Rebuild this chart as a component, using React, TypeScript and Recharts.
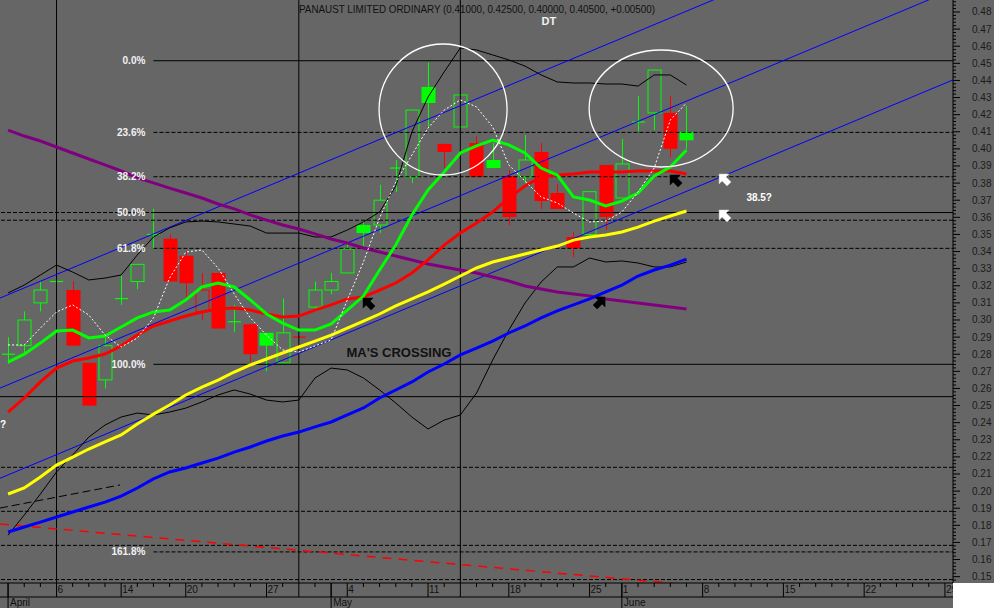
import React from 'react';
import { ComposedChart, Bar, Line, XAxis, YAxis, ReferenceLine, ReferenceDot } from 'recharts';

const FONT = '"Liberation Sans", Arial, sans-serif';

const dates = ['Apr 1','Apr 2','Apr 3','Apr 6','Apr 7','Apr 8','Apr 9','Apr 14','Apr 15','Apr 16','Apr 17','Apr 20','Apr 21','Apr 22','Apr 23','Apr 24','Apr 27','Apr 28','Apr 29','Apr 30',
  'May 1','May 4','May 5','May 6','May 7','May 8','May 11','May 12','May 13','May 14','May 15','May 18','May 19','May 20','May 21','May 22','May 25','May 26',
  'Jun 1','Jun 2','Jun 3','Jun 4','Jun 5','Jun 8','Jun 9','Jun 10','Jun 11','Jun 12','Jun 15','Jun 16','Jun 17','Jun 18','Jun 19','Jun 22','Jun 23','Jun 24','Jun 25','Jun 26','Jun 29'];

const tickDates = ['Apr 6','Apr 14','Apr 20','Apr 27','May 4','May 11','May 18','May 25','Jun 1','Jun 8','Jun 15','Jun 22','Jun 29'];
const monthStarts = ['Apr 1','May 1','Jun 1'];
const monthNames = ['April','May','June'];
const markerDates = ['Apr 6','Apr 29','May 13'];

const opens = [0.28,0.285,0.31,0.3225,0.3175,0.275,0.265,0.3125,0.3225,0.35,0.3475,0.3375,0.305,0.3275,0.299,0.2975,0.2925,0.275,0.29,0.3075,0.3175,0.3275,0.3555,0.3555,0.3888,0.3836,0.4362,0.4029,0.4128,0.4034,0.3935,0.3841,0.3836,0.3982,0.3742,0.3485,0.35,0.3906,0.3713,0.4157,0.421,0.421,0.41];
const highs = [0.29,0.305,0.3225,0.325,0.3225,0.275,0.29,0.326,0.3325,0.365,0.35,0.34,0.3275,0.3275,0.3088,0.2975,0.2925,0.3125,0.2905,0.3225,0.3275,0.3456,0.3578,0.379,0.3935,0.4227,0.4504,0.4029,0.4315,0.4075,0.4034,0.3877,0.4081,0.4034,0.3795,0.3514,0.375,0.3906,0.4058,0.4309,0.4461,0.431,0.425];
const lows = [0.2745,0.28,0.305,0.3225,0.285,0.25,0.26,0.3088,0.318,0.3415,0.3225,0.3125,0.30,0.295,0.293,0.275,0.27,0.275,0.2895,0.305,0.315,0.3275,0.343,0.3508,0.3748,0.38,0.4128,0.3888,0.4128,0.3836,0.3888,0.3555,0.38,0.3649,0.3649,0.3368,0.35,0.3526,0.3713,0.4104,0.411,0.395,0.40];
const closes = [0.28,0.30,0.3175,0.3225,0.285,0.25,0.285,0.3125,0.3325,0.35,0.3225,0.3215,0.3175,0.295,0.299,0.28,0.285,0.2925,0.29,0.3175,0.3225,0.3415,0.3508,0.37,0.3888,0.4227,0.4268,0.3982,0.4315,0.3836,0.3888,0.3602,0.3935,0.3695,0.3649,0.342,0.375,0.3602,0.3912,0.4157,0.4461,0.40,0.405];

const maGreen = [0.2754,0.28,0.2865,0.2936,0.2941,0.2895,0.2906,0.2959,0.3012,0.3047,0.3058,0.3117,0.3193,0.3216,0.3193,0.3117,0.3035,0.2982,0.2941,0.2941,0.2977,0.3058,0.314,0.3292,0.3438,0.3614,0.376,0.3865,0.3976,0.4017,0.4052,0.4023,0.3976,0.3888,0.3847,0.3719,0.3701,0.3666,0.3695,0.3742,0.3842,0.3894,0.3993];
const maRed = [0.2462,0.2544,0.2638,0.2719,0.276,0.2778,0.2801,0.2848,0.2912,0.2965,0.2994,0.3023,0.3047,0.3064,0.307,0.3058,0.3035,0.3017,0.3023,0.3058,0.3088,0.3123,0.3134,0.3175,0.3216,0.3275,0.3351,0.3438,0.3508,0.3567,0.3631,0.3713,0.3783,0.3836,0.3847,0.3853,0.3865,0.3865,0.3865,0.3871,0.3871,0.3871,0.3853];
const maYellow = [0.1983,0.2018,0.2082,0.2152,0.2199,0.2246,0.2287,0.2328,0.2392,0.245,0.2503,0.2562,0.2608,0.2649,0.2696,0.2737,0.2772,0.2807,0.2842,0.2877,0.2912,0.2953,0.2994,0.3035,0.3082,0.3123,0.3164,0.321,0.3257,0.3304,0.3339,0.3362,0.3386,0.3409,0.3432,0.3467,0.3485,0.3497,0.3514,0.3543,0.3578,0.3608,0.3637];
const maBlue = [0.1761,0.179,0.1819,0.1849,0.1878,0.1907,0.1936,0.1971,0.2018,0.2071,0.2112,0.2135,0.2164,0.2193,0.2228,0.2258,0.2293,0.2322,0.2345,0.2375,0.2404,0.2445,0.2486,0.2544,0.2591,0.2638,0.2696,0.2743,0.2796,0.2836,0.2877,0.2924,0.2965,0.3012,0.3053,0.3088,0.3123,0.3164,0.3204,0.3257,0.3292,0.3321,0.3356];
const maPurple = [0.411,0.4075,0.4046,0.4011,0.3976,0.3941,0.3906,0.3871,0.383,0.3801,0.3771,0.3742,0.3713,0.3678,0.3649,0.3614,0.3584,0.3555,0.3532,0.3503,0.3473,0.345,0.3421,0.3397,0.3374,0.3351,0.3327,0.331,0.3292,0.3275,0.3251,0.3228,0.3199,0.3181,0.3164,0.3152,0.3141,0.3123,0.3111,0.3099,0.3088,0.3076,0.3064];
const bandUpper = [0.3158,0.3204,0.3263,0.3321,0.328,0.3234,0.3245,0.3263,0.338,0.3485,0.3538,0.3573,0.3578,0.3573,0.3561,0.3549,0.3508,0.3508,0.3508,0.3485,0.3485,0.3526,0.3573,0.3631,0.3783,0.4099,0.4303,0.445,0.459,0.4578,0.4549,0.452,0.4484,0.4432,0.4391,0.4385,0.4385,0.4379,0.4379,0.4367,0.4432,0.4432,0.4373];
const bandLower = [0.1743,0.186,0.1983,0.2112,0.2211,0.2316,0.2386,0.2433,0.2456,0.2445,0.2462,0.2485,0.2521,0.2562,0.2591,0.2567,0.2532,0.2521,0.2532,0.2661,0.2719,0.2708,0.2661,0.2591,0.2515,0.2433,0.2363,0.2415,0.2445,0.2573,0.2766,0.2941,0.3099,0.3222,0.331,0.331,0.3362,0.3339,0.3345,0.3333,0.331,0.331,0.3339];
const maWhite = [0.2854,0.2854,0.2953,0.3047,0.3088,0.3029,0.2912,0.2842,0.2895,0.3012,0.3245,0.3397,0.3409,0.3304,0.3152,0.3012,0.2912,0.2825,0.2813,0.2848,0.2883,0.3117,0.3339,0.3596,0.3806,0.3964,0.4122,0.4227,0.4286,0.4245,0.4128,0.3906,0.3812,0.3719,0.3684,0.3625,0.3573,0.3578,0.3631,0.3748,0.3888,0.4169,0.4268];

const priceTicks = [0.15,0.16,0.17,0.18,0.19,0.20,0.21,0.22,0.23,0.24,0.25,0.26,0.27,0.28,0.29,0.30,0.31,0.32,0.33,0.34,0.35,0.36,0.37,0.38,0.39,0.40,0.41,0.42,0.43,0.44,0.45,0.46,0.47,0.48];

const fibHigh = 0.4515;
const fibLow = 0.2741;
const fibLevels = [0, 23.6, 38.2, 50, 61.8, 100, 161.8];
const fibSolid = [0, 100];
const fibStartDate = 'Apr 16';

const levelDashed = [0.3628, 0.3583, 0.2139, 0.1882, 0.1683, 0.1483];
const levelSolid = [0.2552];

// channel / trend lines: [x1 (day index), y1, x2, y2]
const channelLines = [
  [-0.5, 0.3128, 58.5, 0.5456],
  [-0.5, 0.2602, 58.5, 0.4930],
  [-0.5, 0.2075, 58.5, 0.4403],
];
const redTrend = [-0.5, 0.1808, 58.5, 0.1317];
const blackTrend = [-0.5, 0.1901, 6.93, 0.2036];

const circles = [
  { x: 26.93, y: 0.423, rx: 64, ry: 65.5 },
  { x: 40.43, y: 0.4236, rx: 72, ry: 58.5 },
];
const arrows = [
  { x: 22.35, y: 0.3093, color: '#000', dir: 'ul' },
  { x: 41.36, y: 0.3812, color: '#000', dir: 'ul' },
  { x: 36.59, y: 0.3099, color: '#000', dir: 'ur' },
  { x: 44.39, y: 0.3818, color: '#fff', dir: 'ul' },
  { x: 44.39, y: 0.3608, color: '#fff', dir: 'ul' },
];
const notes = [
  { x: 24.2, y: 0.2813, text: "MA'S CROSSING", size: 13, color: '#111' },
  { x: 46.5, y: 0.3719, text: '38.5?', size: 10, color: '#fff' },
  { x: -0.31, y: 0.2392, text: '?', size: 10, color: '#fff' },
];

const idx = (d: string) => dates.indexOf(d);

const data = dates.map((d, i) => {
  const has = i < opens.length;
  return {
    i,
    date: d,
    o: has ? opens[i] : null,
    h: has ? highs[i] : null,
    l: has ? lows[i] : null,
    c: has ? closes[i] : null,
    pc: has && i > 0 ? closes[i - 1] : null,
    range: has ? [lows[i], highs[i]] : null,
    green: has ? maGreen[i] : null,
    red: has ? maRed[i] : null,
    yellow: has ? maYellow[i] : null,
    blue: has ? maBlue[i] : null,
    purple: has ? maPurple[i] : null,
    bbU: has ? bandUpper[i] : null,
    bbL: has ? bandLower[i] : null,
    white: has ? maWhite[i] : null,
  };
});

const yTicks: number[] = [];
for (let k = 148; k <= 486; k += 2) yTicks.push(k / 1000);

const tickIdx: Record<number, string> = {};
tickDates.forEach((d) => { tickIdx[idx(d)] = d.split(' ')[1]; });
const monthIdx: Record<number, string> = {};
monthStarts.forEach((d, k) => { monthIdx[idx(d)] = monthNames[k]; });
const markerIdx = markerDates.map(idx);

const Candle = (props: any) => {
  const { x, y, width, height, payload } = props;
  if (!payload || payload.o == null) return null;
  const { o, h, l, c, pc } = payload;
  const top = Math.min(y, y + height);
  const bot = Math.max(y, y + height);
  const span = h - l;
  const py = (v: number) => (span > 0 ? top + ((h - v) / span) * (bot - top) : top);
  const col = pc == null || c >= pc ? '#00ff00' : '#ff0000';
  const cx = Math.round(x + width / 2) + 0.5;
  const bw = 13;
  const bx = cx - bw / 2;
  const yo = py(o);
  const yc = py(c);
  const yh = py(h);
  const yl = py(l);
  const els: any[] = [];
  els.push(<line key="w" x1={cx} x2={cx} y1={yh} y2={Math.max(yl, yh + 1)} stroke={col} strokeWidth={1} />);
  if (Math.abs(o - c) < 1e-9) {
    els.push(<line key="b" x1={bx} x2={bx + bw} y1={yo} y2={yo} stroke={col} strokeWidth={1.2} />);
  } else if (c > o) {
    els.push(<rect key="b" x={bx} y={yc} width={bw} height={yo - yc} fill="#666666" stroke={col} strokeWidth={1} />);
  } else {
    els.push(<rect key="b" x={bx - 0.5} y={yo} width={bw + 1} height={Math.max(1, yc - yo)} fill={col} />);
  }
  return <g>{els}</g>;
};

const XTick = (props: any) => {
  const { x, y, payload } = props;
  const i = payload.value;
  const label = tickIdx[i];
  const month = monthIdx[i];
  const long = label !== undefined || month !== undefined || markerIdx.includes(i);
  return (
    <g>
      {i === 0 && <line x1={0} x2={953} y1={y + 14} y2={y + 14} stroke="#000" />}
      <line x1={x} x2={x} y1={y} y2={long ? y + 14 : y + 4} stroke="#000" />
      {label !== undefined && (
        <text x={x + 1} y={y + 10} fontSize={10} fill="#111" fontFamily={FONT}>{label}</text>
      )}
      {month !== undefined && (
        <g>
          <line x1={x} x2={x} y1={y} y2={y + 25} stroke="#000" />
          <text x={x + 2} y={y + 23} fontSize={10} fill="#111" fontFamily={FONT}>{month}</text>
        </g>
      )}
    </g>
  );
};

const YTick = (props: any) => {
  const { x, y, payload } = props;
  const v = payload.value;
  const major = Math.round(v * 1000) % 10 === 0;
  return (
    <g>
      <line x1={x} x2={x + (major ? 7 : 3)} y1={y} y2={y} stroke="#000" />
      {major && priceTicks.some((p) => Math.abs(p - v) < 1e-6) && (
        <text x={x + 19} y={y + 3.5} fontSize={10} fill="#1a1a1a" fontFamily={FONT}>{v.toFixed(2)}</text>
      )}
    </g>
  );
};

const arrowShape = (color: string, dir: string) => (p: any) => {
  const s = dir === 'ur' ? -1 : 1;
  return (
    <g transform={`translate(${p.cx},${p.cy}) scale(${s},1) translate(-6,-6)`}>
      <polygon points="0,0 0,10 3,7 8,12 12,8 7,3 10,0" fill={color} stroke={color === '#fff' ? '#ccc' : '#000'} strokeWidth={0.5} />
    </g>
  );
};

const lineProps = { dot: false, activeDot: false, isAnimationActive: false } as const;

export default function App() {
  const fibStart = idx(fibStartDate);
  return (
    <div style={{ position: 'absolute', left: 0, top: 0, width: 994, height: 608, background: '#666666', overflow: 'hidden' }}>
      <style>{'body{margin:0}'}</style>
      <ComposedChart width={994} height={608} data={data} margin={{ top: 0, right: 0, bottom: 0, left: 0 }}>
        <XAxis xAxisId="c" dataKey="i" type="category" height={25} interval={0} tickSize={0} tickMargin={0}
          tick={XTick} axisLine={{ stroke: '#000' }} tickLine={false} />
        <XAxis xAxisId="n" dataKey="i" type="number" domain={[-0.5, 58.5]} allowDataOverflow hide />
        <YAxis orientation="right" width={41} domain={[0.1463, 0.487]} allowDataOverflow ticks={yTicks} interval={0}
          tickSize={0} tickMargin={0} tick={YTick} axisLine={{ stroke: '#000' }} tickLine={false} />

        {levelDashed.map((v) => (
          <ReferenceLine key={'ld' + v} xAxisId="n" y={v} stroke="#000" strokeDasharray="4 2" ifOverflow="hidden" />
        ))}
        {levelSolid.map((v) => (
          <ReferenceLine key={'ls' + v} xAxisId="n" y={v} stroke="#000" ifOverflow="hidden" />
        ))}
        {fibLevels.map((pct) => {
          const v = fibHigh - (pct / 100) * (fibHigh - fibLow);
          return (
            <ReferenceLine key={'f' + pct} xAxisId="n" segment={[{ x: fibStart, y: v }, { x: 58.5, y: v }]}
              stroke="#000" strokeDasharray={fibSolid.includes(pct) ? undefined : '4 2'} ifOverflow="hidden" />
          );
        })}
        {markerIdx.map((m) => (
          <ReferenceLine key={'m' + m} xAxisId="n" x={m} stroke="#000" ifOverflow="hidden" />
        ))}
        {channelLines.map((c, k) => (
          <ReferenceLine key={'ch' + k} xAxisId="n" segment={[{ x: c[0], y: c[1] }, { x: c[2], y: c[3] }]}
            stroke="#0000ff" strokeWidth={1} ifOverflow="hidden" />
        ))}
        <ReferenceLine xAxisId="n" segment={[{ x: redTrend[0], y: redTrend[1] }, { x: redTrend[2], y: redTrend[3] }]}
          stroke="#ff0000" strokeWidth={1.5} strokeDasharray="9 7" ifOverflow="hidden" />
        <ReferenceLine xAxisId="n" segment={[{ x: blackTrend[0], y: blackTrend[1] }, { x: blackTrend[2], y: blackTrend[3] }]}
          stroke="#000" strokeWidth={1} strokeDasharray="8 4" ifOverflow="hidden" />

        <Line xAxisId="n" dataKey="bbU" stroke="#000" strokeWidth={1} {...lineProps} />
        <Line xAxisId="n" dataKey="bbL" stroke="#000" strokeWidth={1} {...lineProps} />
        <Line xAxisId="n" dataKey="purple" stroke="#800080" strokeWidth={3} {...lineProps} />
        <Line xAxisId="n" dataKey="blue" stroke="#0000ff" strokeWidth={3} {...lineProps} />

        <Bar xAxisId="c" dataKey="range" barSize={14} shape={(p: any) => <Candle {...p} />} activeBar={false} isAnimationActive={false} />

        <Line xAxisId="n" dataKey="yellow" stroke="#ffff00" strokeWidth={3} {...lineProps} />
        <Line xAxisId="n" dataKey="red" stroke="#ff0000" strokeWidth={3} {...lineProps} />
        <Line xAxisId="n" dataKey="green" stroke="#00ff00" strokeWidth={3} {...lineProps} />
        <Line xAxisId="n" dataKey="white" stroke="#ffffff" strokeWidth={1} strokeDasharray="2 2" {...lineProps} />

        {fibLevels.map((pct) => {
          const v = fibHigh - (pct / 100) * (fibHigh - fibLow);
          return (
            <ReferenceDot key={'fl' + pct} xAxisId="n" x={fibStart - 0.5} y={v} ifOverflow="visible"
              shape={(p: any) => (
                <text x={p.cx} y={p.cy + 3.5} textAnchor="end" fontSize={10} fontWeight="bold" fill="#f2f2f2" fontFamily={FONT}>
                  {pct.toFixed(1) + '%'}
                </text>
              )} />
          );
        })}
        {circles.map((c, k) => (
          <ReferenceDot key={'c' + k} xAxisId="n" x={c.x} y={c.y} ifOverflow="visible"
            shape={(p: any) => <ellipse cx={p.cx} cy={p.cy} rx={c.rx} ry={c.ry} fill="none" stroke="#ffffff" strokeWidth={1.3} />} />
        ))}
        {arrows.map((a, k) => (
          <ReferenceDot key={'a' + k} xAxisId="n" x={a.x} y={a.y} ifOverflow="visible" shape={arrowShape(a.color, a.dir)} />
        ))}
        {notes.map((n, k) => (
          <ReferenceDot key={'n' + k} xAxisId="n" x={n.x} y={n.y} ifOverflow="visible"
            shape={(p: any) => (
              <text x={p.cx} y={p.cy + n.size * 0.36} textAnchor="middle" fontSize={n.size} fontWeight="bold" fill={n.color} fontFamily={FONT}>
                {n.text}
              </text>
            )} />
        ))}
      </ComposedChart>
      <svg width={994} height={40} style={{ position: 'absolute', left: 0, top: 0, pointerEvents: 'none' }}>
        <text x={299} y={12.5} fontSize={10.5} fill="#111" fontFamily={FONT} textLength={356} lengthAdjust="spacingAndGlyphs">
          PANAUST LIMITED ORDINARY (0.41000, 0.42500, 0.40000, 0.40500, +0.00500)
        </text>
        <text x={541.5} y={25} fontSize={11} fontWeight="bold" fill="#f2f2f2" fontFamily={FONT}>DT</text>
      </svg>
      <div style={{ position: 'absolute', left: 953, top: 583, width: 41, height: 25, background: '#ffffff' }} />
    </div>
  );
}
